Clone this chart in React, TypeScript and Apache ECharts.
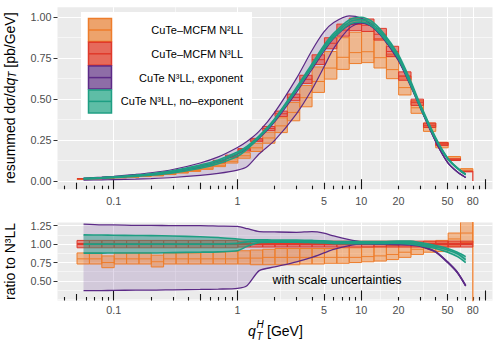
import React, { useEffect, useRef } from "react";
import * as echarts from "echarts";

const FONT = "'Liberation Sans', Arial, Helvetica, sans-serif";

// ---------- data ----------
const BIN_EDGES = [0.0505, 0.0636, 0.0801, 0.1008, 0.127, 0.16, 0.201, 0.253, 0.319, 0.401, 0.505, 0.636, 0.801, 1.008, 1.27, 1.6, 2.01, 2.53, 3.19, 4.01, 5.05, 6.36, 8.01, 10.08, 12.7, 16.0, 20.1, 25.3, 31.9, 40.1, 50.5, 63.6, 80];

// CuTe-MCFM N3LL (top panel)
const N3LL_C = [0.014, 0.017, 0.021, 0.026, 0.031, 0.037, 0.045, 0.054, 0.066, 0.080, 0.097, 0.120, 0.150, 0.190, 0.250, 0.320, 0.410, 0.510, 0.620, 0.740, 0.840, 0.920, 0.955, 0.950, 0.895, 0.790, 0.640, 0.480, 0.340, 0.225, 0.130, 0.058];
const N3LL_LO = [0.0133, 0.0162, 0.0200, 0.0247, 0.0295, 0.0352, 0.0428, 0.0513, 0.0627, 0.0760, 0.0922, 0.1140, 0.1425, 0.1824, 0.2400, 0.3072, 0.3936, 0.4896, 0.5952, 0.7104, 0.8064, 0.8832, 0.9168, 0.9120, 0.8592, 0.7584, 0.6144, 0.4608, 0.3264, 0.2160, 0.1248, 0.0557];
const N3LL_HI = [0.0147, 0.0179, 0.0221, 0.0273, 0.0326, 0.0389, 0.0473, 0.0567, 0.0693, 0.0840, 0.1019, 0.1260, 0.1575, 0.1976, 0.2600, 0.3328, 0.4264, 0.5304, 0.6448, 0.7696, 0.8736, 0.9568, 0.9932, 0.9880, 0.9308, 0.8216, 0.6656, 0.4992, 0.3536, 0.2340, 0.1352, 0.0603];

// CuTe-MCFM N2LL (top panel)
const N2LL_C = [0.0112, 0.0136, 0.0158, 0.0208, 0.0248, 0.0296, 0.0342, 0.0432, 0.0528, 0.0640, 0.0776, 0.0960, 0.1200, 0.1539, 0.2025, 0.2624, 0.3362, 0.4182, 0.5084, 0.6068, 0.6888, 0.7544, 0.7831, 0.7885, 0.7518, 0.6794, 0.5696, 0.4464, 0.3298, 0.2273, 0.1391, 0.0667];
const N2LL_LO = [0.0102, 0.0124, 0.0143, 0.0190, 0.0226, 0.0270, 0.0311, 0.0394, 0.0482, 0.0584, 0.0708, 0.0876, 0.1095, 0.1387, 0.1800, 0.2304, 0.2952, 0.3672, 0.4526, 0.5402, 0.6216, 0.6808, 0.7163, 0.7220, 0.6892, 0.6241, 0.5248, 0.4128, 0.3026, 0.2025, 0.1261, 0.0592];
const N2LL_HI = [0.0123, 0.0150, 0.0176, 0.0229, 0.0273, 0.0326, 0.0383, 0.0475, 0.0581, 0.0704, 0.0863, 0.1068, 0.1350, 0.1729, 0.2300, 0.2976, 0.3854, 0.4794, 0.5828, 0.6956, 0.7896, 0.8740, 0.9073, 0.9120, 0.8682, 0.7742, 0.6400, 0.4896, 0.3536, 0.2363, 0.1495, 0.0754];

// ratios to N3LL (bottom panel)
const RATIO_N3LL_C = [1, 1, 1, 1, 1, 1, 1, 1, 1, 1, 1, 1, 1, 1, 1, 1, 1, 1, 1, 1, 1, 1, 1, 1, 1, 1, 1, 1, 1, 1, 1, 1];
const RATIO_N3LL_LO = [0.95, 0.95, 0.95, 0.95, 0.95, 0.95, 0.95, 0.95, 0.95, 0.95, 0.95, 0.95, 0.95, 0.96, 0.96, 0.96, 0.96, 0.96, 0.96, 0.96, 0.96, 0.96, 0.96, 0.96, 0.96, 0.96, 0.96, 0.96, 0.96, 0.96, 0.96, 0.96];
const RATIO_N3LL_HI = [1.05, 1.05, 1.05, 1.05, 1.05, 1.05, 1.05, 1.05, 1.05, 1.05, 1.05, 1.05, 1.05, 1.04, 1.04, 1.04, 1.04, 1.04, 1.04, 1.04, 1.04, 1.04, 1.04, 1.04, 1.04, 1.04, 1.04, 1.04, 1.04, 1.04, 1.04, 1.04];
const RATIO_N2LL_C = [0.80, 0.80, 0.75, 0.80, 0.80, 0.80, 0.76, 0.80, 0.80, 0.80, 0.80, 0.80, 0.80, 0.81, 0.81, 0.82, 0.82, 0.82, 0.82, 0.82, 0.82, 0.82, 0.82, 0.83, 0.84, 0.86, 0.89, 0.93, 0.97, 1.01, 1.07, 1.15];
const RATIO_N2LL_LO = [0.73, 0.73, 0.68, 0.73, 0.73, 0.73, 0.69, 0.73, 0.73, 0.73, 0.73, 0.73, 0.73, 0.73, 0.72, 0.72, 0.72, 0.72, 0.73, 0.73, 0.74, 0.74, 0.75, 0.76, 0.77, 0.79, 0.82, 0.86, 0.89, 0.90, 0.97, 1.02];
const RATIO_N2LL_HI = [0.88, 0.88, 0.84, 0.88, 0.88, 0.88, 0.85, 0.88, 0.88, 0.88, 0.89, 0.89, 0.90, 0.91, 0.92, 0.93, 0.94, 0.94, 0.94, 0.94, 0.94, 0.95, 0.95, 0.96, 0.97, 0.98, 1.00, 1.02, 1.04, 1.05, 1.15, 1.30];

// CuTe curves
const CURVE_Q = [0.057, 0.08, 0.1, 0.15, 0.2, 0.3, 0.5, 0.7, 1.0, 1.2, 1.5, 2, 3, 4, 5, 6, 8, 10, 12, 15, 20, 25, 30, 40, 50, 60, 70];
const NOEXP_C = [0.014, 0.019, 0.023, 0.032, 0.040, 0.056, 0.088, 0.118, 0.167, 0.206, 0.270, 0.374, 0.562, 0.704, 0.814, 0.887, 0.969, 0.984, 0.964, 0.893, 0.759, 0.602, 0.460, 0.259, 0.138, 0.078, 0.040];
const NOEXP_LO = [0.0123, 0.0167, 0.0202, 0.0282, 0.0352, 0.0496, 0.0783, 0.1056, 0.150, 0.194, 0.265, 0.369, 0.554, 0.694, 0.802, 0.874, 0.955, 0.970, 0.950, 0.879, 0.747, 0.590, 0.451, 0.254, 0.134, 0.075, 0.0375];
const NOEXP_HI = [0.0158, 0.0213, 0.0258, 0.0357, 0.0446, 0.0622, 0.0968, 0.1286, 0.1766, 0.212, 0.2756, 0.380, 0.570, 0.714, 0.826, 0.900, 0.983, 0.999, 0.978, 0.906, 0.770, 0.614, 0.469, 0.265, 0.141, 0.080, 0.0415];
const EXP_C = [0.014, 0.019, 0.023, 0.032, 0.040, 0.056, 0.088, 0.118, 0.165, 0.200, 0.260, 0.360, 0.540, 0.680, 0.790, 0.870, 0.950, 0.965, 0.945, 0.875, 0.740, 0.590, 0.449, 0.242, 0.113, 0.055, 0.022];
const EXP_LO = [0.0052, 0.0070, 0.0086, 0.012, 0.015, 0.0213, 0.0339, 0.046, 0.066, 0.088, 0.166, 0.248, 0.410, 0.558, 0.695, 0.809, 0.931, 0.965, 0.945, 0.871, 0.733, 0.581, 0.446, 0.240, 0.1125, 0.055, 0.0215];
const EXP_HI = [0.0178, 0.0239, 0.029, 0.0402, 0.0502, 0.070, 0.110, 0.147, 0.2046, 0.242, 0.304, 0.419, 0.626, 0.796, 0.909, 0.966, 1.007, 0.994, 0.954, 0.875, 0.740, 0.587, 0.451, 0.243, 0.114, 0.0558, 0.022];
const RATIO_NOEXP_C = [1.0, 1.0, 1.0, 1.0, 1.0, 1.0, 1.0, 1.0, 1.01, 1.03, 1.04, 1.04, 1.04, 1.035, 1.03, 1.02, 1.02, 1.02, 1.02, 1.02, 1.025, 1.02, 1.0, 0.96, 0.92, 0.87, 0.79];
const RATIO_NOEXP_LO = [0.878, 0.878, 0.88, 0.88, 0.88, 0.885, 0.89, 0.895, 0.91, 0.97, 1.02, 1.025, 1.025, 1.02, 1.015, 1.005, 1.005, 1.005, 1.005, 1.005, 1.01, 1.0, 0.98, 0.94, 0.89, 0.83, 0.75];
const RATIO_NOEXP_HI = [1.125, 1.123, 1.12, 1.117, 1.115, 1.11, 1.10, 1.09, 1.07, 1.06, 1.06, 1.055, 1.055, 1.05, 1.045, 1.035, 1.035, 1.035, 1.035, 1.035, 1.04, 1.04, 1.02, 0.98, 0.94, 0.89, 0.83];
const RATIO_EXP_C = [1, 1, 1, 1, 1, 1, 1, 1, 1, 1, 1, 1, 1, 1, 1, 1, 1, 1, 1, 1, 1, 1, 0.975, 0.895, 0.755, 0.615, 0.435];
const RATIO_EXP_LO = [0.37, 0.37, 0.372, 0.375, 0.375, 0.38, 0.385, 0.39, 0.40, 0.44, 0.64, 0.69, 0.76, 0.82, 0.88, 0.93, 0.98, 1.0, 1.0, 0.995, 0.99, 0.985, 0.97, 0.89, 0.75, 0.61, 0.43];
const RATIO_EXP_HI = [1.27, 1.26, 1.26, 1.255, 1.255, 1.25, 1.25, 1.245, 1.24, 1.21, 1.17, 1.165, 1.16, 1.17, 1.15, 1.11, 1.06, 1.03, 1.01, 1.0, 1.0, 0.995, 0.98, 0.90, 0.76, 0.62, 0.44];

// closing drops of the step histograms at the last edge
const END_EDGE = 80;
const END_DROP_TOP = [0.058, 0];
const END_DROP_RATIO = [1.3, 0.2];

// axes
const X_LIMITS = [0.0351, 115.3];
const X_MAJOR = [0.1, 1, 5, 10, 20, 50, 80];
const X_MAJOR_LABELS = ["0.1", "1", "5", "10", "20", "50", "80"];
const X_MINOR = [0.3162, 2.236, 7.071, 14.14, 31.62, 63.25];
const LOGTICK_SHORT = [0.04, 0.06, 0.07, 0.08, 0.09, 0.2, 0.3, 0.4, 0.6, 0.7, 0.8, 0.9, 2, 3, 4, 6, 7, 8, 9, 20, 30, 40, 60, 70, 80, 90];
const LOGTICK_MID = [0.05, 0.5, 5, 50];
const LOGTICK_LONG = [0.1, 1, 10, 100];
const Y_TOP_LIMITS = [-0.05, 1.06];
const Y_TOP_MAJOR = [0, 0.25, 0.5, 0.75, 1.0];
const Y_TOP_MINOR = [0.125, 0.375, 0.625, 0.875];
const Y_BOT_LIMITS = [0.235, 1.293];
const Y_BOT_MAJOR = [0.5, 0.75, 1.0, 1.25];
const Y_BOT_MINOR = [0.25, 0.375, 0.625, 0.875, 1.125];

const LEGEND_LABELS = ["CuTe–MCFM N²LL", "CuTe–MCFM N³LL", "CuTe N³LL, exponent", "CuTe N³LL, no–exponent"];

// ---------- styling ----------
const ORANGE = "#EE7D2B";
const ORANGE_FILL = "rgba(241,132,52,0.5)";
const RED = "#E0392B";
const RED_FILL = "rgba(226,58,44,0.55)";
const PURPLE = "#5C2A87";
const PURPLE_FILL = "rgba(112,66,152,0.2)";
const TEAL = "#1E9E83";
const TEAL_FILL = "rgba(30,160,130,0.45)";
const KEY_STROKES = [ORANGE, RED, PURPLE, TEAL];
const KEY_FILLS = ["#EDA36C", "#E66A5B", "#8E6DA7", "#5EBDA6"];

const lg = (v: number) => Math.log10(v);

function fmtX(v: number) {
  const i = X_MAJOR.findIndex((m) => Math.abs(lg(m) - v) < 1e-4);
  return i >= 0 ? X_MAJOR_LABELS[i] : "";
}

function xAxesFor(grid: number, labelMargin: number) {
  const base: any = {
    type: "value", gridIndex: grid, min: lg(X_LIMITS[0]), max: lg(X_LIMITS[1]), position: "bottom",
    axisLine: { show: false, onZero: false }, axisLabel: { show: false }, axisTick: { show: false }, splitLine: { show: false },
    silent: true, axisPointer: { show: false },
  };
  const tickAxis = (vals: number[], len: number) => ({
    ...base,
    axisTick: { show: true, inside: true, length: len, customValues: vals.map(lg), lineStyle: { color: "#151515", width: 1.1 } },
  });
  return [
    {
      ...base,
      axisTick: { show: false, customValues: X_MAJOR.map(lg) },
      axisLabel: { show: true, customValues: X_MAJOR.map(lg), formatter: fmtX, color: "#4D4D4D", fontSize: 10.8, fontFamily: FONT, margin: labelMargin },
      splitLine: { show: true, lineStyle: { color: "#FFFFFF", width: 1.1 } },
    },
    { ...base, axisTick: { show: false, customValues: X_MINOR.map(lg) }, splitLine: { show: true, lineStyle: { color: "#FFFFFF", width: 0.55 } } },
    tickAxis(LOGTICK_SHORT, 3.5),
    tickAxis(LOGTICK_MID, 6.5),
    tickAxis(LOGTICK_LONG, 10),
  ];
}

function yAxesFor(grid: number, limits: number[], major: number[], minor: number[]) {
  const base: any = {
    type: "value", gridIndex: grid, min: limits[0], max: limits[1], position: "left",
    axisLine: { show: false, onZero: false }, silent: true, axisPointer: { show: false },
  };
  return [
    {
      ...base,
      axisTick: { show: true, length: 4, customValues: major, lineStyle: { color: "#333333", width: 1 } },
      axisLabel: { show: true, customValues: major, formatter: (v: number) => v.toFixed(2), color: "#4D4D4D", fontSize: 10.8, fontFamily: FONT, margin: 6 },
      splitLine: { show: true, lineStyle: { color: "#FFFFFF", width: 1.1 } },
    },
    {
      ...base,
      axisTick: { show: false, customValues: minor },
      axisLabel: { show: false },
      splitLine: { show: true, lineStyle: { color: "#FFFFFF", width: 0.55 } },
    },
  ];
}

function histSeries(xi: number, yi: number, lo: number[], hi: number[], c: number[], fill: string, stroke: string, z: number, cw: number) {
  const data = lo.map((_, i) => [lg(BIN_EDGES[i]), lg(BIN_EDGES[i + 1]), lo[i], hi[i], c[i]]);
  return {
    type: "custom", xAxisIndex: xi, yAxisIndex: yi, z, silent: true, clip: true,
    encode: { x: [0, 1], y: [2, 3, 4] },
    data,
    renderItem: (_p: any, api: any) => {
      const a = api.coord([api.value(0), api.value(3)]);
      const b = api.coord([api.value(1), api.value(2)]);
      const c0 = api.coord([api.value(0), api.value(4)]);
      const c1 = api.coord([api.value(1), api.value(4)]);
      return {
        type: "group",
        children: [
          { type: "rect", shape: { x: a[0], y: a[1], width: b[0] - a[0], height: b[1] - a[1] }, style: { fill, stroke, lineWidth: 1 } },
          { type: "line", shape: { x1: c0[0], y1: c0[1], x2: c1[0], y2: c1[1] }, style: { stroke, lineWidth: cw } },
        ],
      };
    },
  };
}

function bandSeries(xi: number, yi: number, lo: number[], hi: number[], fill: string, z: number) {
  return {
    type: "custom", xAxisIndex: xi, yAxisIndex: yi, z, silent: true, clip: true,
    encode: { x: 0, y: 1 },
    data: [[lg(CURVE_Q[0]), lo[0]]],
    renderItem: (_p: any, api: any) => {
      const pts: number[][] = [];
      for (let i = 0; i < CURVE_Q.length; i++) pts.push(api.coord([lg(CURVE_Q[i]), hi[i]]));
      for (let i = CURVE_Q.length - 1; i >= 0; i--) pts.push(api.coord([lg(CURVE_Q[i]), lo[i]]));
      return { type: "polygon", shape: { points: pts }, style: { fill } };
    },
  };
}

function curveSeries(xi: number, yi: number, v: number[], color: string, width: number, z: number) {
  return {
    type: "line", xAxisIndex: xi, yAxisIndex: yi, z, silent: true, symbol: "none", showSymbol: false,
    smooth: 0.25, clip: true,
    data: CURVE_Q.map((q, i) => [lg(q), v[i]]),
    lineStyle: { color, width },
  };
}

function dropSeries(xi: number, yi: number, vals: number[], color: string, z: number) {
  return {
    type: "line", xAxisIndex: xi, yAxisIndex: yi, z, silent: true, symbol: "none", showSymbol: false, clip: true,
    data: vals.map((v) => [lg(END_EDGE), v]),
    lineStyle: { color, width: 1.3 },
  };
}

function txt(x: number, y: number, text: string, size: number, align: string, extra: any = {}) {
  return {
    type: "text", z: 100, zlevel: 1, x, y,
    style: { text, fontSize: size, fontFamily: FONT, fill: "#000", align, textAlign: align, verticalAlign: "middle", textVerticalAlign: "middle", ...extra },
  };
}

function buildOption() {
  const TX = 0, TY = 0, BX = 5, BY = 2;
  const series: any[] = [
    // top panel
    bandSeries(TX, TY, EXP_LO, EXP_HI, PURPLE_FILL, 1),
    histSeries(TX, TY, N2LL_LO, N2LL_HI, N2LL_C, ORANGE_FILL, ORANGE, 2, 1),
    histSeries(TX, TY, N3LL_LO, N3LL_HI, N3LL_C, RED_FILL, RED, 3, 1),
    dropSeries(TX, TY, END_DROP_TOP, RED, 3),
    bandSeries(TX, TY, NOEXP_LO, NOEXP_HI, TEAL_FILL, 4),
    curveSeries(TX, TY, EXP_LO, PURPLE, 1.2, 5),
    curveSeries(TX, TY, EXP_HI, PURPLE, 1.2, 5),
    curveSeries(TX, TY, EXP_C, PURPLE, 1.2, 5),
    curveSeries(TX, TY, NOEXP_LO, TEAL, 1.6, 6),
    curveSeries(TX, TY, NOEXP_HI, TEAL, 1.6, 6),
    curveSeries(TX, TY, NOEXP_C, TEAL, 1.6, 6),
    // ratio panel
    bandSeries(BX, BY, RATIO_EXP_LO, RATIO_EXP_HI, PURPLE_FILL, 1),
    curveSeries(BX, BY, RATIO_EXP_C, PURPLE, 1.6, 2),
    histSeries(BX, BY, RATIO_N2LL_LO, RATIO_N2LL_HI, RATIO_N2LL_C, ORANGE_FILL, ORANGE, 3, 1),
    dropSeries(BX, BY, END_DROP_RATIO, ORANGE, 3),
    histSeries(BX, BY, RATIO_N3LL_LO, RATIO_N3LL_HI, RATIO_N3LL_C, RED_FILL, RED, 4, 2),
    bandSeries(BX, BY, RATIO_NOEXP_LO, RATIO_NOEXP_HI, TEAL_FILL, 5),
    curveSeries(BX, BY, RATIO_EXP_LO, PURPLE, 1.3, 6),
    curveSeries(BX, BY, RATIO_EXP_HI, PURPLE, 1.3, 6),
    curveSeries(BX, BY, RATIO_NOEXP_LO, TEAL, 1.6, 7),
    curveSeries(BX, BY, RATIO_NOEXP_HI, TEAL, 1.6, 7),
    curveSeries(BX, BY, RATIO_NOEXP_C, TEAL, 1.6, 7),
  ];

  const graphic: any[] = [
    { type: "rect", z: 100, zlevel: 1, shape: { x: 81, y: 12, width: 171, height: 108 }, style: { fill: "#FFFFFF" } },
  ];
  LEGEND_LABELS.forEach((lab, i) => {
    const y0 = 18.5 + 23.8 * i;
    graphic.push(
      { type: "rect", z: 101, zlevel: 1, shape: { x: 88.5, y: y0, width: 23, height: 23 }, style: { fill: KEY_FILLS[i], stroke: KEY_STROKES[i], lineWidth: 1.5 } },
      { type: "line", z: 102, zlevel: 1, shape: { x1: 88.5, y1: y0 + 11.5, x2: 111.5, y2: y0 + 11.5 }, style: { stroke: KEY_STROKES[i], lineWidth: 1.5 } },
      txt(243, y0 + 11.5, lab, 11, "right")
    );
  });

  graphic.push(
    {
      type: "text", z: 100, zlevel: 1, x: 10, y: 98, rotation: Math.PI / 2,
      style: {
        text: "{a|resummed dσ/d}{i|q}{s|T}{a| [pb/GeV]}",
        rich: {
          a: { fontSize: 14, fontFamily: FONT, fill: "#000" },
          i: { fontSize: 14, fontFamily: FONT, fontStyle: "italic", fill: "#000" },
          s: { fontSize: 10, fontFamily: FONT, fontStyle: "italic", fill: "#000", verticalAlign: "bottom", lineHeight: 9 },
        },
        align: "center", textAlign: "center", verticalAlign: "middle", textVerticalAlign: "middle",
      },
    },
    { ...txt(10, 261.5, "ratio to N³LL", 14, "center"), rotation: Math.PI / 2 },
    txt(248, 331, "q", 14, "left", { fontStyle: "italic" }),
    txt(256.5, 324.5, "H", 10, "left", { fontStyle: "italic" }),
    txt(256.5, 336, "T", 10, "left", { fontStyle: "italic" }),
    txt(267, 331, "[GeV]", 14, "left"),
    txt(337, 279.5, "with scale uncertainties", 12.5, "center")
  );

  return {
    animation: false,
    backgroundColor: "#FFFFFF",
    textStyle: { fontFamily: FONT },
    grid: [
      { left: 57.5, top: 7.2, width: 435, height: 182, show: true, backgroundColor: "#EBEBEB", borderWidth: 0, containLabel: false, outerBoundsMode: "none" },
      { left: 57.5, top: 222.5, width: 435, height: 78, show: true, backgroundColor: "#EBEBEB", borderWidth: 0, containLabel: false, outerBoundsMode: "none" },
    ],
    xAxis: [...xAxesFor(0, 6.5), ...xAxesFor(1, 4)],
    yAxis: [...yAxesFor(0, Y_TOP_LIMITS, Y_TOP_MAJOR, Y_TOP_MINOR), ...yAxesFor(1, Y_BOT_LIMITS, Y_BOT_MAJOR, Y_BOT_MINOR)],
    series,
    graphic,
  };
}

export default function App() {
  const ref = useRef<HTMLDivElement>(null);
  useEffect(() => {
    if (!ref.current) return;
    const chart = echarts.init(ref.current, undefined, { renderer: "svg" });
    chart.setOption(buildOption() as any);
    return () => chart.dispose();
  }, []);
  return <div ref={ref} style={{ position: "fixed", left: 0, top: 0, width: 500, height: 350 }} />;
}
